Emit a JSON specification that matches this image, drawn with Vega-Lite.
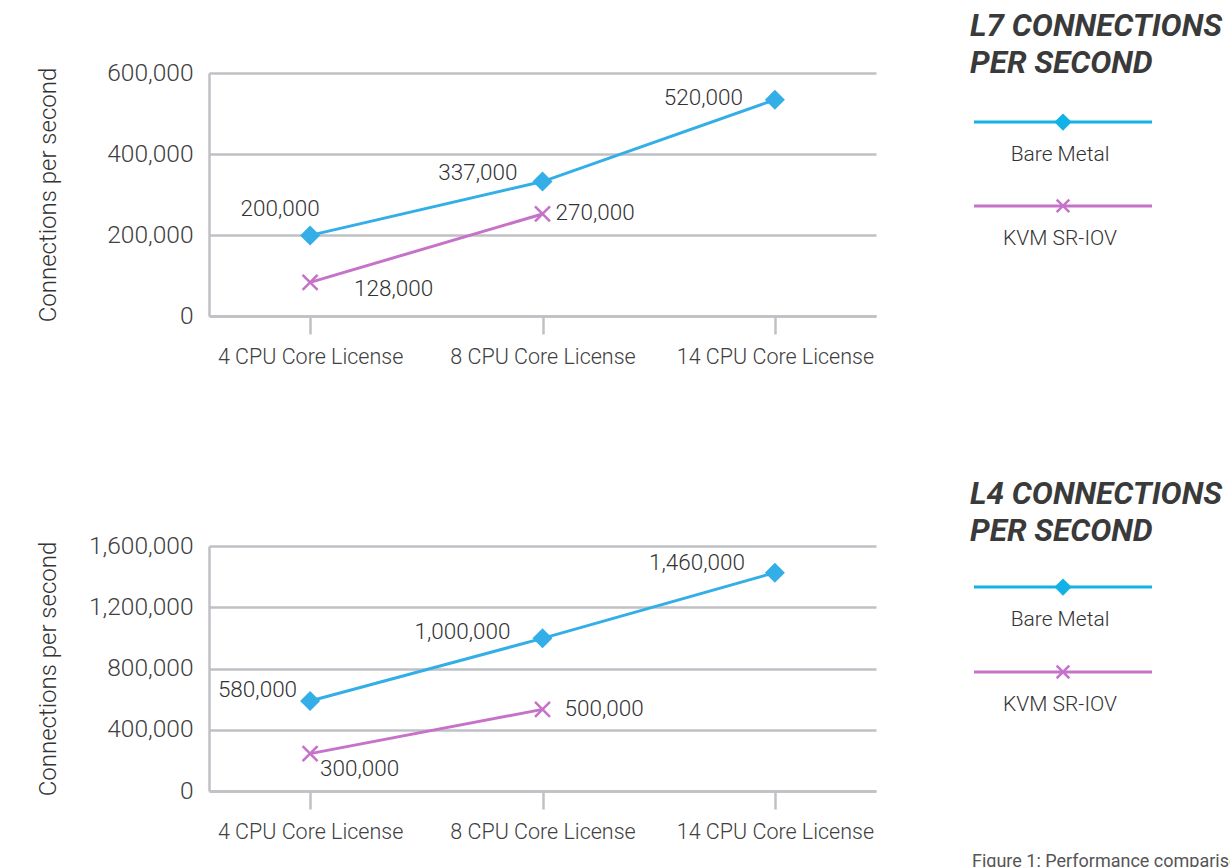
{
  "$schema": "https://vega.github.io/schema/vega-lite/v6.json",
  "background": "white",
  "padding": {"left": 36, "top": 10, "right": 0, "bottom": 0},
  "spacing": 110,
  "resolve": {"scale": {"color": "independent"}},
  "config": {
    "font": "Roboto",
    "view": {"stroke": null},
    "text": {"fontSize": 22.5, "fontWeight": 300, "color": "#333333", "baseline": "middle"},
    "axis": {
      "domainColor": "#bfc1c4",
      "domainWidth": 2.5,
      "gridColor": "#bfc1c4",
      "gridWidth": 2.5,
      "tickColor": "#bfc1c4",
      "tickWidth": 2.5,
      "labelFont": "Roboto",
      "labelFontWeight": 300,
      "labelColor": "#404040",
      "labelLimit": 0,
      "titleFont": "Roboto",
      "titleFontWeight": 300,
      "titleColor": "#333333"
    }
  },
  "title": {
    "text": "Figure 1: Performance comparison",
    "orient": "bottom",
    "anchor": "start",
    "frame": "bounds",
    "dx": 936,
    "offset": 10,
    "fontSize": 18,
    "fontWeight": 400,
    "color": "#555555"
  },
  "datasets": {
    "l7": [
      {"license": "4 CPU Core License", "series": "Bare Metal", "value": 199000, "label": "200,000"},
      {"license": "8 CPU Core License", "series": "Bare Metal", "value": 332000, "label": "337,000"},
      {"license": "14 CPU Core License", "series": "Bare Metal", "value": 534000, "label": "520,000"},
      {"license": "4 CPU Core License", "series": "KVM SR-IOV", "value": 83000, "label": "128,000"},
      {"license": "8 CPU Core License", "series": "KVM SR-IOV", "value": 252000, "label": "270,000"}
    ],
    "l4": [
      {"license": "4 CPU Core License", "series": "Bare Metal", "value": 588000, "label": "580,000"},
      {"license": "8 CPU Core License", "series": "Bare Metal", "value": 997000, "label": "1,000,000"},
      {"license": "14 CPU Core License", "series": "Bare Metal", "value": 1426000, "label": "1,460,000"},
      {"license": "4 CPU Core License", "series": "KVM SR-IOV", "value": 244000, "label": "300,000"},
      {"license": "8 CPU Core License", "series": "KVM SR-IOV", "value": 533000, "label": "500,000"}
    ],
    "legend": [
      {"series": "Bare Metal"},
      {"series": "KVM SR-IOV"}
    ]
  },
  "vconcat": [
    {
      "bounds": "flush",
      "spacing": 98,
      "resolve": {"scale": {"color": "independent"}},
      "hconcat": [
        {
          "width": 667,
          "height": 243,
          "data": {"name": "l7"},
          "encoding": {
            "x": {
              "field": "license",
              "type": "ordinal",
              "sort": ["4 CPU Core License", "8 CPU Core License", "14 CPU Core License"],
              "scale": {"type": "point", "padding": 0.435},
              "axis": {"title": null, "grid": false, "ticks": true, "tickSize": 18, "labelFontSize": 21.5, "labelPadding": 12, "labelAngle": 0}
            },
            "y": {
              "field": "value",
              "type": "quantitative",
              "scale": {"domain": [0, 600000]},
              "axis": {"values": [0, 200000, 400000, 600000], "format": ",d", "title": "Connections per second", "titleFontSize": 24, "titleX": -154, "titleBaseline": "alphabetic", "ticks": false, "labelFontSize": 24.5, "labelPadding": 16}
            }
          },
          "layer": [
            {
              "mark": {"type": "line", "strokeWidth": 3},
              "encoding": {
                "color": {"field": "series", "type": "nominal", "scale": {"domain": ["Bare Metal", "KVM SR-IOV"], "range": ["#33aee6", "#c672c9"]}, "legend": null}
              }
            },
            {
              "transform": [{"filter": "datum.series === 'Bare Metal'"}],
              "mark": {"type": "point", "shape": "diamond", "filled": true, "size": 400, "color": "#33aee6", "opacity": 1}
            },
            {
              "transform": [{"filter": "datum.series === 'KVM SR-IOV'"}],
              "mark": {"type": "point", "shape": "M-1,-1L1,1M-1,1L1,-1", "filled": false, "size": 225, "strokeWidth": 2.5, "color": "#c672c9", "opacity": 1}
            },
            {
              "transform": [{"filter": "datum.label === '200,000'"}],
              "mark": {"type": "text", "align": "center", "dx": -30, "dy": -26},
              "encoding": {"text": {"field": "label"}}
            },
            {
              "transform": [{"filter": "datum.label === '337,000'"}],
              "mark": {"type": "text", "align": "right", "dx": -25, "dy": -9},
              "encoding": {"text": {"field": "label"}}
            },
            {
              "transform": [{"filter": "datum.label === '520,000'"}],
              "mark": {"type": "text", "align": "right", "dx": -32, "dy": -2},
              "encoding": {"text": {"field": "label"}}
            },
            {
              "transform": [{"filter": "datum.label === '270,000'"}],
              "mark": {"type": "text", "align": "left", "dx": 13, "dy": -1},
              "encoding": {"text": {"field": "label"}}
            },
            {
              "transform": [{"filter": "datum.label === '128,000'"}],
              "mark": {"type": "text", "align": "left", "dx": 44, "dy": 7},
              "encoding": {"text": {"field": "label"}}
            }
          ]
        },
        {
          "width": 178,
          "height": 182,
          "data": {"name": "legend"},
          "title": {"text": ["L7 CONNECTIONS", "PER SECOND"], "anchor": "start", "frame": "group", "fontSize": 31.5, "fontWeight": "bold", "fontStyle": "italic", "color": "#3a3a3a", "lineHeight": 37, "offset": -6, "dx": -4},
          "encoding": {
            "y": {"field": "series", "type": "nominal", "sort": ["Bare Metal", "KVM SR-IOV"], "scale": {"type": "point", "padding": 0.586}, "axis": null}
          },
          "layer": [
            {
              "mark": {"type": "rule", "strokeWidth": 3},
              "encoding": {
                "x": {"datum": 0, "type": "quantitative", "scale": {"domain": [0, 1]}, "axis": null},
                "x2": {"datum": 1},
                "color": {"field": "series", "type": "nominal", "scale": {"domain": ["Bare Metal", "KVM SR-IOV"], "range": ["#12b2e6", "#c672c9"]}, "legend": null}
              }
            },
            {
              "transform": [{"filter": "datum.series === 'Bare Metal'"}],
              "mark": {"type": "point", "shape": "diamond", "filled": true, "size": 300, "color": "#12b2e6", "opacity": 1},
              "encoding": {"x": {"datum": 0.5, "type": "quantitative"}}
            },
            {
              "transform": [{"filter": "datum.series === 'KVM SR-IOV'"}],
              "mark": {"type": "point", "shape": "M-1,-1L1,1M-1,1L1,-1", "filled": false, "size": 160, "strokeWidth": 2.5, "color": "#c672c9", "opacity": 1},
              "encoding": {"x": {"datum": 0.5, "type": "quantitative"}}
            },
            {
              "mark": {"type": "text", "align": "center", "dx": -3, "dy": 33, "fontSize": 21},
              "encoding": {"x": {"datum": 0.5, "type": "quantitative"}, "text": {"field": "series"}}
            }
          ]
        }
      ]
    },
    {
      "bounds": "flush",
      "spacing": 98,
      "resolve": {"scale": {"color": "independent"}},
      "hconcat": [
        {
          "width": 667,
          "height": 245,
          "data": {"name": "l4"},
          "encoding": {
            "x": {
              "field": "license",
              "type": "ordinal",
              "sort": ["4 CPU Core License", "8 CPU Core License", "14 CPU Core License"],
              "scale": {"type": "point", "padding": 0.435},
              "axis": {"title": null, "grid": false, "ticks": true, "tickSize": 18, "labelFontSize": 21.5, "labelPadding": 12, "labelAngle": 0}
            },
            "y": {
              "field": "value",
              "type": "quantitative",
              "scale": {"domain": [0, 1600000]},
              "axis": {"values": [0, 400000, 800000, 1200000, 1600000], "format": ",d", "title": "Connections per second", "titleFontSize": 24, "titleX": -154, "titleBaseline": "alphabetic", "ticks": false, "labelFontSize": 24.5, "labelPadding": 16}
            }
          },
          "layer": [
            {
              "mark": {"type": "line", "strokeWidth": 3},
              "encoding": {
                "color": {"field": "series", "type": "nominal", "scale": {"domain": ["Bare Metal", "KVM SR-IOV"], "range": ["#33aee6", "#c672c9"]}, "legend": null}
              }
            },
            {
              "transform": [{"filter": "datum.series === 'Bare Metal'"}],
              "mark": {"type": "point", "shape": "diamond", "filled": true, "size": 400, "color": "#33aee6", "opacity": 1}
            },
            {
              "transform": [{"filter": "datum.series === 'KVM SR-IOV'"}],
              "mark": {"type": "point", "shape": "M-1,-1L1,1M-1,1L1,-1", "filled": false, "size": 225, "strokeWidth": 2.5, "color": "#c672c9", "opacity": 1}
            },
            {
              "transform": [{"filter": "datum.label === '580,000'"}],
              "mark": {"type": "text", "align": "right", "dx": -13, "dy": -11},
              "encoding": {"text": {"field": "label"}}
            },
            {
              "transform": [{"filter": "datum.label === '1,000,000'"}],
              "mark": {"type": "text", "align": "right", "dx": -32, "dy": -6},
              "encoding": {"text": {"field": "label"}}
            },
            {
              "transform": [{"filter": "datum.label === '1,460,000'"}],
              "mark": {"type": "text", "align": "right", "dx": -30, "dy": -10},
              "encoding": {"text": {"field": "label"}}
            },
            {
              "transform": [{"filter": "datum.label === '500,000'"}],
              "mark": {"type": "text", "align": "left", "dx": 22, "dy": 0},
              "encoding": {"text": {"field": "label"}}
            },
            {
              "transform": [{"filter": "datum.label === '300,000'"}],
              "mark": {"type": "text", "align": "left", "dx": 10, "dy": 15},
              "encoding": {"text": {"field": "label"}}
            }
          ]
        },
        {
          "width": 178,
          "height": 167,
          "data": {"name": "legend"},
          "title": {"text": ["L4 CONNECTIONS", "PER SECOND"], "anchor": "start", "frame": "group", "fontSize": 31.5, "fontWeight": "bold", "fontStyle": "italic", "color": "#3a3a3a", "lineHeight": 37, "offset": -1, "dx": -4},
          "encoding": {
            "y": {"field": "series", "type": "nominal", "sort": ["Bare Metal", "KVM SR-IOV"], "scale": {"type": "point", "padding": 0.484}, "axis": null}
          },
          "layer": [
            {
              "mark": {"type": "rule", "strokeWidth": 3},
              "encoding": {
                "x": {"datum": 0, "type": "quantitative", "scale": {"domain": [0, 1]}, "axis": null},
                "x2": {"datum": 1},
                "color": {"field": "series", "type": "nominal", "scale": {"domain": ["Bare Metal", "KVM SR-IOV"], "range": ["#12b2e6", "#c672c9"]}, "legend": null}
              }
            },
            {
              "transform": [{"filter": "datum.series === 'Bare Metal'"}],
              "mark": {"type": "point", "shape": "diamond", "filled": true, "size": 300, "color": "#12b2e6", "opacity": 1},
              "encoding": {"x": {"datum": 0.5, "type": "quantitative"}}
            },
            {
              "transform": [{"filter": "datum.series === 'KVM SR-IOV'"}],
              "mark": {"type": "point", "shape": "M-1,-1L1,1M-1,1L1,-1", "filled": false, "size": 160, "strokeWidth": 2.5, "color": "#c672c9", "opacity": 1},
              "encoding": {"x": {"datum": 0.5, "type": "quantitative"}}
            },
            {
              "mark": {"type": "text", "align": "center", "dx": -3, "dy": 33, "fontSize": 21},
              "encoding": {"x": {"datum": 0.5, "type": "quantitative"}, "text": {"field": "series"}}
            }
          ]
        }
      ]
    }
  ]
}
